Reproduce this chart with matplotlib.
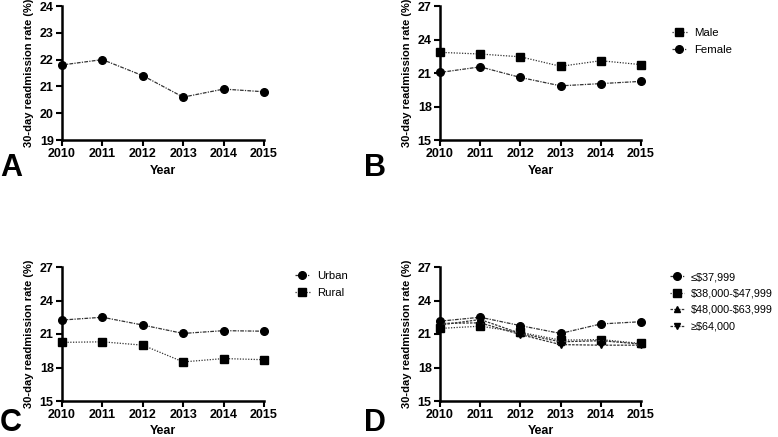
import matplotlib
matplotlib.use('Agg')
import matplotlib.pyplot as plt

plt.rcParams['font.family'] = ['Liberation Sans', 'DejaVu Sans']

years = [2010, 2011, 2012, 2013, 2014, 2015]

overall = [21.8, 22.0, 21.4, 20.6, 20.9, 20.8]

male = [22.85, 22.7, 22.45, 21.6, 22.1, 21.75]
female = [21.05, 21.55, 20.6, 19.85, 20.05, 20.25]

urban = [22.25, 22.5, 21.8, 21.05, 21.3, 21.25]
rural = [20.25, 20.3, 20.0, 18.5, 18.8, 18.7]

inc_labels = ['\u2264\\$37,999', '\\$38,000-\\$47,999', '\\$48,000-\\$63,999', '\u2265\\$64,000']
inc_low = [22.15, 22.5, 21.75, 21.05, 21.9, 22.1]
inc_mid1 = [21.5, 21.7, 21.15, 20.45, 20.5, 20.15]
inc_mid2 = [21.8, 22.3, 21.05, 20.3, 20.4, 20.1]
inc_high = [21.95, 22.0, 20.95, 20.05, 20.0, 20.0]

W, H = 778, 437
fig = plt.figure(figsize=(W / 100, H / 100), dpi=100)


def make_axes(x0, y_top, x1, y_bot):
    return fig.add_axes([x0 / W, 1 - y_bot / H, (x1 - x0) / W, (y_bot - y_top) / H])


def style(ax, ylim, yticks):
    ax.set_xlim(2010, 2015)
    ax.set_ylim(*ylim)
    ax.set_xticks(years)
    ax.set_yticks(yticks)
    for s in ['top', 'right']:
        ax.spines[s].set_visible(False)
    for s in ['left', 'bottom']:
        ax.spines[s].set_linewidth(1.8)
    ax.tick_params(width=1.5, length=4, labelsize=9, pad=2)
    for lab in ax.get_xticklabels() + ax.get_yticklabels():
        lab.set_fontweight('bold')
    ax.set_xlabel('Year', fontsize=9, fontweight='bold', labelpad=3)
    ax.set_ylabel('30-day readmission rate (%)', fontsize=8, fontweight='bold', labelpad=4)


def line(ax, y, marker, label=None, ls=(0, (1, 1.2)), ms=5.5):
    ax.plot(years, y, linestyle=ls, color='#333333', lw=0.9, marker=marker,
            ms=ms, mfc='black', mec='black', clip_on=False, label=label, zorder=5)


def legend(ax, x, y, size=8.2):
    ax.legend(loc='upper left', bbox_to_anchor=(x / W, 1 - y / H), bbox_transform=fig.transFigure,
              frameon=False, fontsize=size, handlelength=1.3, handletextpad=0.6,
              labelspacing=0.6, borderaxespad=0, borderpad=0)


axA = make_axes(62, 6, 264, 140)
line(axA, overall, 'o', ls=(0, (3, 1, 1, 1)))
style(axA, (19, 24), [19, 20, 21, 22, 23, 24])

axB = make_axes(440, 6, 641, 140)
line(axB, male, 's', 'Male')
line(axB, female, 'o', 'Female', ls=(0, (3, 1, 1, 1)))
style(axB, (15, 27), [15, 18, 21, 24, 27])
legend(axB, 672, 28)

axC = make_axes(62, 267, 264, 401)
line(axC, urban, 'o', 'Urban', ls=(0, (3, 1, 1, 1)))
line(axC, rural, 's', 'Rural')
style(axC, (15, 27), [15, 18, 21, 24, 27])
legend(axC, 295, 271)

axD = make_axes(440, 267, 641, 401)
line(axD, inc_low, 'o', inc_labels[0], ls=(0, (3, 1, 1, 1)))
line(axD, inc_mid1, 's', inc_labels[1])
line(axD, inc_mid2, '^', inc_labels[2], ls=(0, (2, 1)), ms=5)
line(axD, inc_high, 'v', inc_labels[3], ls=(0, (2, 1)), ms=5)
style(axD, (15, 27), [15, 18, 21, 24, 27])
legend(axD, 670, 272, size=7.8)

for letter, x, y in [('A', 0, 176), ('B', 364, 176), ('C', 0, 431), ('D', 364, 431)]:
    fig.text(x / W, 1 - y / H, letter, fontsize=22, fontweight='bold', ha='left', va='baseline')

fig.savefig('out.png', dpi=100, facecolor='white')
